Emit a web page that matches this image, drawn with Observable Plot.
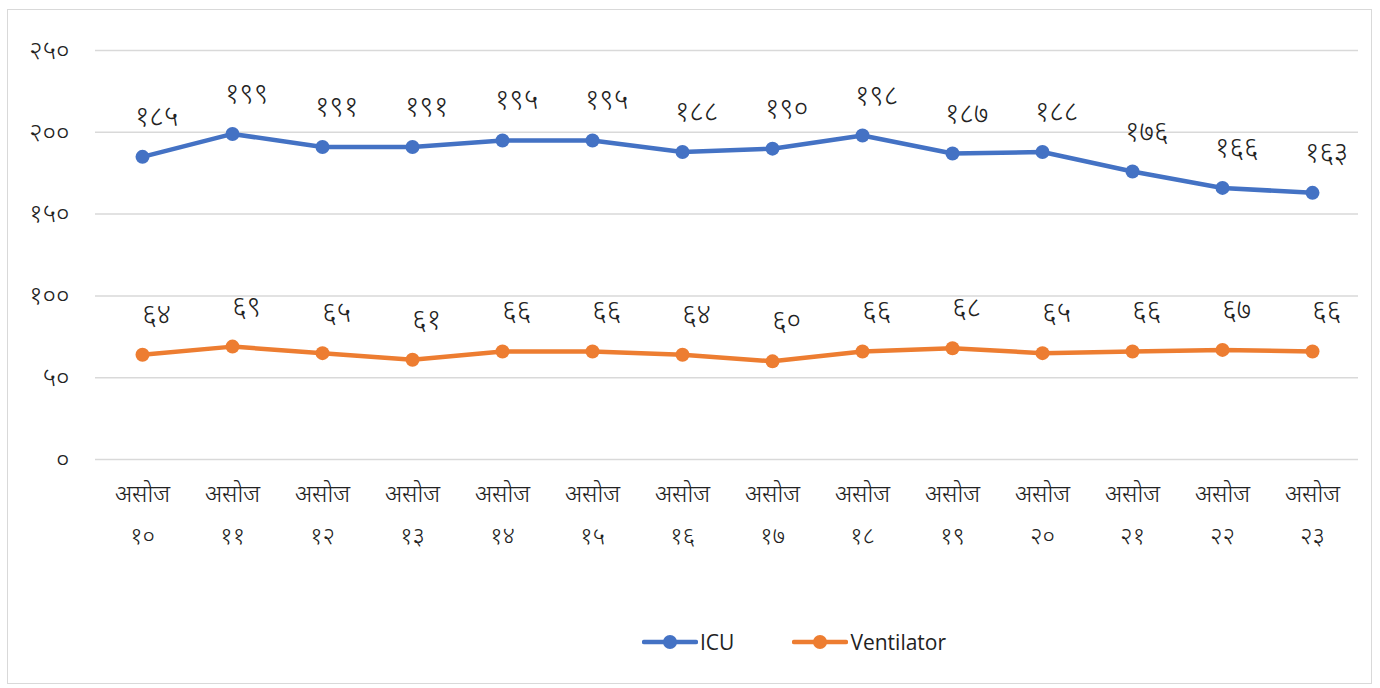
<!DOCTYPE html>
<html><head><meta charset="utf-8">
<script src="https://cdn.jsdelivr.net/npm/d3@7"></script>
<script src="https://cdn.jsdelivr.net/npm/@observablehq/plot@0.6"></script>
<style>
body{margin:0;background:#fff;font-family:"Noto Sans Devanagari","Noto Sans",sans-serif;}
#frame{position:absolute;left:7px;top:9px;width:1365px;height:675px;border:1.5px solid #d9d9d9;box-sizing:border-box;}
#chart{position:absolute;left:0;top:0;}
#legend{position:absolute;top:628px;left:642px;display:flex;align-items:center;font-family:"Open Sans",Lato,sans-serif;font-size:21px;color:#222;}
.item{display:flex;align-items:center;margin-right:58px;}
.item svg{margin-right:2px;}
</style></head>
<body>
<div id="frame"></div>
<div id="chart"></div>
<div id="legend"></div>
<script>
const month = "असोज";
const days = ["१०","११","१२","१३","१४","१५","१६","१७","१८","१९","२०","२१","२२","२३"];
const icu = [185,199,191,191,195,195,188,190,198,187,188,176,166,163];
const ventilator = [64,69,65,61,66,66,64,60,66,68,65,66,67,66];
const seriesNames = ["ICU","Ventilator"];
const seriesColors = ["#4472C4","#ED7D31"];
const yTicks = [0,50,100,150,200,250];

const devDigits = "०१२३४५६७८९";
const toDev = v => String(v).replace(/[0-9]/g, c => devDigits[+c]);

const categories = days.map(d => month + "\n" + d);
const data = categories.flatMap((c, i) => [
  {cat: c, series: "ICU", value: icu[i]},
  {cat: c, series: "Ventilator", value: ventilator[i]}
]);

const fontDev = "'Noto Sans Devanagari','Noto Sans',sans-serif";

const chart = Plot.plot({
  width: 1380,
  height: 600,
  marginLeft: 95,
  marginRight: 22,
  marginTop: 50,
  marginBottom: 141,
  style: {fontFamily: fontDev, background: "transparent", color: "#222"},
  x: {type: "point", domain: categories, padding: 0.5, label: null},
  y: {domain: [0, 250], label: null},
  color: {domain: seriesNames, range: seriesColors},
  marks: [
    Plot.gridY(yTicks, {stroke: "#d9d9d9", strokeOpacity: 1, strokeWidth: 1.5}),
    Plot.axisY(yTicks, {tickSize: 0, tickPadding: 26, tickFormat: toDev, fontSize: 26, label: null, fill: "#222", fontWeight: 300}),
    Plot.axisX({tickSize: 0, tickPadding: 13, fontSize: 24, lineHeight: 1.75, label: null, fill: "#222", fontWeight: 300}),
    Plot.lineY(data, {x: "cat", y: "value", stroke: "series", strokeWidth: 4.5, z: "series"}),
    Plot.dot(data, {x: "cat", y: "value", fill: "series", r: 7}),
    Plot.text(data, {x: "cat", y: "value", text: d => toDev(d.value), dx: 14, dy: -40, fontSize: 28, fill: "#222", fontWeight: 300})
  ]
});
document.getElementById("chart").appendChild(chart);

const legend = document.getElementById("legend");
seriesNames.forEach((name, i) => {
  const item = document.createElement("div");
  item.className = "item";
  item.innerHTML = `<svg width="56" height="20"><line x1="2" y1="10" x2="54" y2="10" stroke="${seriesColors[i]}" stroke-width="4.5" stroke-linecap="round"/><circle cx="28" cy="10" r="7" fill="${seriesColors[i]}"/></svg><span>${name}</span>`;
  legend.appendChild(item);
});
</script>
</body></html>
